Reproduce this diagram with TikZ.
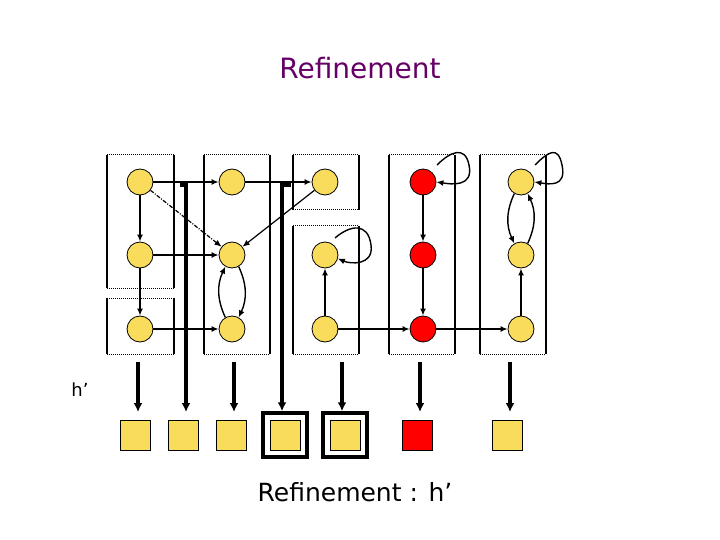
\documentclass[tikz,border=0pt]{standalone}
\usepackage{fontspec}
\setmainfont{DejaVu Sans}
\usetikzlibrary{arrows.meta}
\definecolor{yel}{HTML}{F9DC5C}
\definecolor{titlec}{HTML}{660066}
\begin{document}
\begin{tikzpicture}[x=1pt,y=-1pt,
  st/.style={circle,draw,line width=0.8pt,fill=yel,minimum size=26pt,inner sep=0pt},
  rst/.style={st,fill=red},
  sq/.style={draw,line width=0.8pt,fill=yel,minimum size=30pt,inner sep=0pt},
  ar/.style={-{Latex[length=7pt,width=6pt]},line width=1.8pt},
  thk/.style={line width=3.5pt,-{Latex[length=9pt,width=9pt]}},
  frame/.style={draw,line width=3.5pt,minimum size=44pt,inner sep=0pt}]
\useasboundingbox (0,0) rectangle (720,540);
\node[titlec,font=\fontsize{28}{32}\selectfont] (title) at (360,68) {Refinement};
\node[font=\fontsize{18}{22}\selectfont] (h) at (80,390) {h’};
\node[font=\fontsize{25}{29}\selectfont] (cap) at (355,492) {Refinement : h’};
% boxes
\foreach \a/\b/\c/\d in {107/155/174/288,107/298/174/354,204/155/270/354,293/155/359/210,293/226/359/354,389/155/455/354,480/155/546/354}{
  \draw[line width=1.5pt] (\a,\b) -- (\a,\d) (\c,\b) -- (\c,\d);
  \draw[densely dotted,line width=1pt] (\a,\b) -- (\c,\b) (\a,\d) -- (\c,\d);
}
% states
\node[st] (a1) at (140,182) {}; \node[st] (a2) at (140,255) {}; \node[st] (a3) at (140,329) {};
\node[st] (b1) at (232,182) {}; \node[st] (b2) at (232,255) {}; \node[st] (b3) at (232,329) {};
\node[st] (c1) at (325,182) {}; \node[st] (c2) at (325,255) {}; \node[st] (c3) at (325,329) {};
\node[rst] (d1) at (423,182) {}; \node[rst] (d2) at (423,255) {}; \node[rst] (d3) at (423,329) {};
\node[st] (e1) at (521,182) {}; \node[st] (e2) at (521,255) {}; \node[st] (e3) at (521,329) {};
% edges
\draw[ar] (a1)--(a2); \draw[ar] (a2)--(a3);
\draw[ar] (a1)--(b1); \draw[ar] (b1)--(c1);
\draw[ar] (a2)--(b2); \draw[ar] (a3)--(b3);
\draw[ar,line width=1.2pt,dash pattern=on 4pt off 1.5pt on 1pt off 1.5pt] (a1)--(b2);
\draw[ar,line width=1.2pt] (c1)--(b2);
\draw[ar,line width=1.4pt] (b2.-60) to[bend left=25] (b3.60);
\draw[ar,line width=1.4pt] (b3.120) to[bend left=25] (b2.-120);
\draw[ar] (c3)--(c2);
\draw[ar,line width=1.4pt] (335,238) .. controls (350,225) and (368,222) .. (371,245) .. controls (374,266) and (350,264) .. (c2.-15);
\draw[ar] (c3)--(d3); \draw[ar] (d3)--(e3);
\draw[ar] (d1)--(d2); \draw[ar] (d2)--(d3);
\draw[ar,line width=1.4pt] (437,165) .. controls (450,152) and (465,145) .. (469,165) .. controls (474,188) and (450,184) .. (d1.0);
\draw[ar] (e3)--(e2);
\draw[ar,line width=1.4pt] (e2.60) to[bend right=25] (e1.-60);
\draw[ar,line width=1.4pt] (e1.-120) to[bend right=25] (e2.120);
\draw[ar,line width=1.4pt] (535,165) .. controls (548,152) and (558,145) .. (562,165) .. controls (567,188) and (548,184) .. (e1.0);
% squares
\node[sq] (s1) at (135,435) {}; \node[sq] (s2) at (183,435) {}; \node[sq] (s3) at (231,435) {};
\node[sq] (s4) at (285,435) {}; \node[frame] (f4) at (285,435) {};
\node[sq] (s5) at (345,435) {}; \node[frame] (f5) at (345,435) {};
\node[sq,fill=red] (s6) at (417,435) {}; \node[sq] (s7) at (507,435) {};
% thick arrows
\coordinate (t1) at (138,362); \coordinate (t3) at (234,362); \coordinate (t5) at (342,362);
\coordinate (t6) at (420,362); \coordinate (t7) at (510,362);
\draw[thk] (t1) -- (138,412); \draw[thk] (t3) -- (234,412);
\draw[thk] (t5) -- (f5.north-|t5); \draw[thk] (t6) -- (420,412); \draw[thk] (t7) -- (510,412);
\coordinate (h2) at (180,185); \coordinate (h4) at (291,185);
\draw[thk] (h2) -- (186,185) -- (186,412);
\draw[thk] (h4) -- (282,185) -- (f4.north-|282,0);
\end{tikzpicture}
\end{document}
